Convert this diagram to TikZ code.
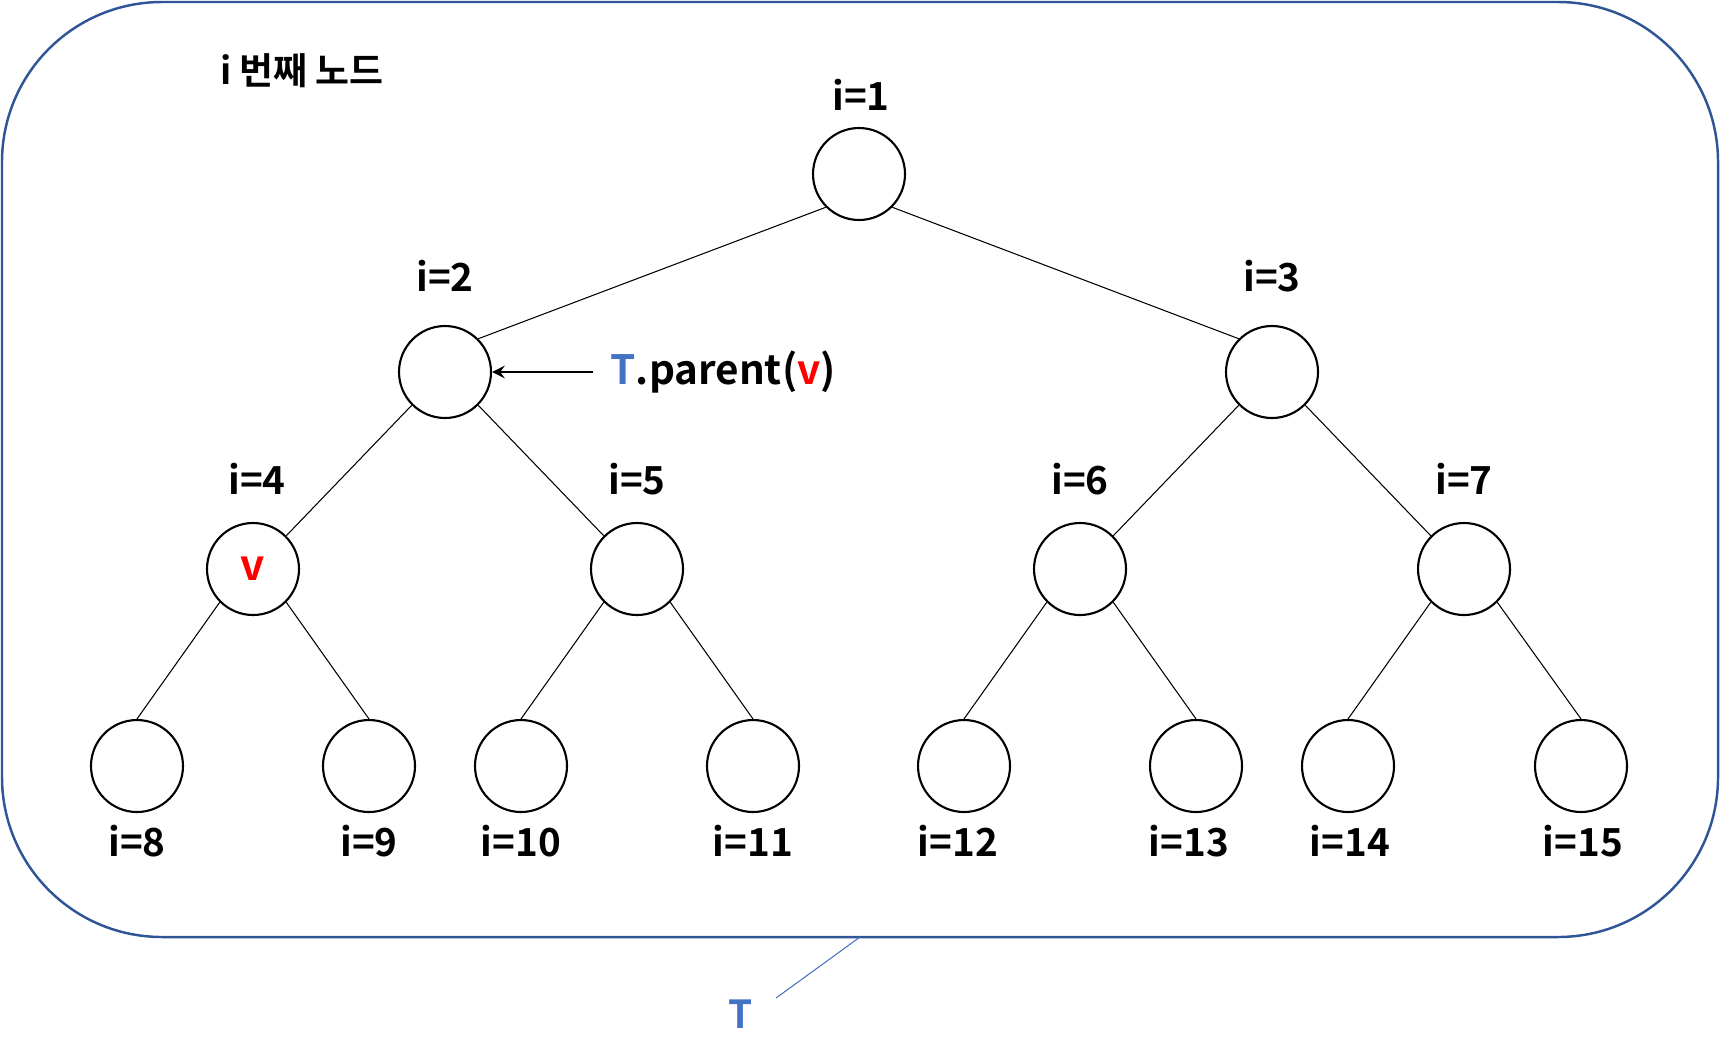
\documentclass[tikz,border=0pt]{standalone}
\usepackage{fontspec}
\setmainfont{Noto Sans CJK KR}[BoldFont={* Bold}]
\definecolor{frameblue}{HTML}{2F5597}
\definecolor{tblue}{HTML}{4472C4}
\definecolor{vred}{HTML}{FF0000}
\tikzset{
  treenode/.style={circle, draw=black, line width=0.6pt, minimum size=9.2mm, inner sep=0pt},
  edge/.style={line width=0.3pt},
  lbl/.style={font=\fontsize{11}{13}\selectfont\bfseries}
}

\begin{document}
\begin{tikzpicture}[x=0.1mm, y=-0.1mm]
    \useasboundingbox (0,0) rectangle (1720,1061);

    % Frame
    \draw[frameblue, line width=0.7pt, rounded corners=16mm] (2,2) rectangle (1718,937);
    \node[lbl, font=\fontsize{10.5}{13}\selectfont\bfseries] (title) at (302,71) {i 번째 노드};

    % Nodes
    \node[treenode] (N1) at (859,174) {};
    \node[treenode] (N2) at (445,372) {};
    \node[treenode] (N3) at (1272,372) {};
    \node[treenode] (N4) at (253,569) {\textcolor{vred}{\fontsize{12}{14}\selectfont\bfseries v}};
    \node[treenode] (N5) at (637,569) {};
    \node[treenode] (N6) at (1080,569) {};
    \node[treenode] (N7) at (1464,569) {};
    \node[treenode] (N8) at (137,766) {};
    \node[treenode] (N9) at (369,766) {};
    \node[treenode] (N10) at (521,766) {};
    \node[treenode] (N11) at (753,766) {};
    \node[treenode] (N12) at (964,766) {};
    \node[treenode] (N13) at (1196,766) {};
    \node[treenode] (N14) at (1348,766) {};
    \node[treenode] (N15) at (1581,766) {};

    % Index labels
    \node[lbl] (L1) at (861,95) {i=1};
    \node[lbl] (L2) at (445,276) {i=2};
    \node[lbl] (L3) at (1272,276) {i=3};
    \node[lbl] (L4) at (257,479) {i=4};
    \node[lbl] (L5) at (637,479) {i=5};
    \node[lbl] (L6) at (1080,479) {i=6};
    \node[lbl] (L7) at (1464,479) {i=7};
    \node[lbl] (L8) at (137,841) {i=8};
    \node[lbl] (L9) at (369,841) {i=9};
    \node[lbl] (L10) at (521,841) {i=10};
    \node[lbl] (L11) at (753,841) {i=11};
    \node[lbl] (L12) at (958,841) {i=12};
    \node[lbl] (L13) at (1189,841) {i=13};
    \node[lbl] (L14) at (1350,841) {i=14};
    \node[lbl] (L15) at (1583,841) {i=15};

    % Tree edges
    \draw[edge] (N1.south west) -- (N2.north east);
    \draw[edge] (N1.south east) -- (N3.north west);
    \draw[edge] (N2.south west) -- (N4.north east);
    \draw[edge] (N2.south east) -- (N5.north west);
    \draw[edge] (N3.south west) -- (N6.north east);
    \draw[edge] (N3.south east) -- (N7.north west);
    \draw[edge] (N4.south west) -- (N8.north);
    \draw[edge] (N4.south east) -- (N9.north);
    \draw[edge] (N5.south west) -- (N10.north);
    \draw[edge] (N5.south east) -- (N11.north);
    \draw[edge] (N6.south west) -- (N12.north);
    \draw[edge] (N6.south east) -- (N13.north);
    \draw[edge] (N7.south west) -- (N14.north);
    \draw[edge] (N7.south east) -- (N15.north);

    % Parent pointer
    \node[lbl, font=\fontsize{11.5}{13}\selectfont\bfseries, anchor=west, inner sep=0pt] (parent) at (610,372) {\textcolor{tblue}{T}.parent(\textcolor{vred}{v})};
    \coordinate (arrstart) at (593,372);
    \draw[line width=0.6pt, ->, >=stealth] (arrstart) -- (N2);

    % Callout for T
    \coordinate (frametip) at (860,937);
    \coordinate (Tend) at (776,998);
    \node[lbl, text=tblue] (Tlbl) at (741,1014) {T};
    \draw[tblue, line width=0.3pt] (frametip) -- (Tend);

\end{tikzpicture}
\end{document}
